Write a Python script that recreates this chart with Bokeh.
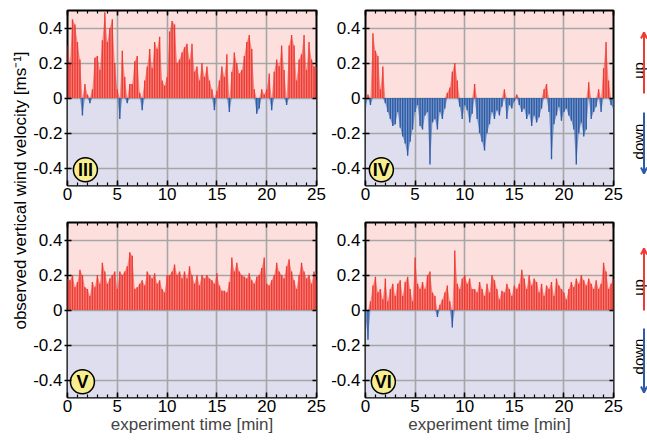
import math
from bokeh.plotting import figure
from bokeh.layouts import row, column
from bokeh.models import (Range1d, FixedTicker, LinearAxis, BoxAnnotation,
                          CustomJSTickFormatter, Arrow, OpenHead, ColumnDataSource)
from bokeh.embed import file_html
from bokeh.resources import INLINE
from bokeh.core.properties import value

# ---------------- data ----------------
time_min = [i * 0.25 for i in range(101)]   # sampling instants, 0 .. 25 min

wind_III = [
    0.30, 0.20, 0.45, 0.42, 0.32, 0.22, -0.10, 0.08,
    0.02, -0.03, 0.05, 0.23, 0.24, 0.16, 0.33, 0.49,
    0.32, 0.40, 0.45, 0.20, 0.05, -0.12, 0.27, 0.12,
    -0.03, 0.08, 0.08, 0.21, 0.24, 0.03, -0.07, 0.10,
    0.18, 0.28, 0.17, 0.32, 0.28, 0.35, 0.10, 0.07,
    0.12, 0.38, 0.44, 0.42, 0.20, 0.22, 0.26, 0.29,
    0.31, 0.22, 0.31, 0.15, 0.18, 0.10, 0.20, 0.12,
    0.18, 0.10, 0.05, -0.07, 0.04, 0.10, 0.18, 0.12,
    0.25, -0.08, 0.15, 0.26, 0.20, 0.14, 0.16, 0.24,
    0.32, 0.36, 0.28, 0.05, -0.09, -0.06, 0.05, 0.02,
    0.05, 0.14, -0.07, 0.15, 0.22, 0.18, 0.30, 0.16,
    -0.04, 0.30, 0.36, 0.30, 0.10, 0.22, 0.25, 0.36,
    0.16, 0.32, 0.22, 0.18, 0.18,
]
wind_IV = [
    -0.05, 0.02, -0.04, 0.37, 0.27, 0.24, 0.05, 0.18,
    -0.03, -0.08, -0.12, -0.16, -0.15, -0.08, -0.17, -0.22,
    -0.26, -0.33, -0.25, -0.18, -0.08, -0.04, -0.16, -0.18,
    -0.10, -0.08, -0.38, -0.14, -0.12, -0.18, -0.08, -0.12,
    -0.06, 0.03, 0.06, 0.15, 0.20, 0.10, -0.05, -0.12,
    -0.04, -0.07, -0.14, -0.09, 0.08, -0.12, -0.20, -0.25,
    -0.30, -0.20, -0.15, -0.08, -0.12, -0.07, -0.10, -0.05,
    0.05, -0.12, -0.04, -0.06, -0.02, 0.02, -0.04, -0.08,
    -0.06, -0.12, -0.09, -0.16, -0.10, -0.14, -0.11, -0.06,
    0.05, 0.08, -0.08, -0.35, -0.15, -0.10, -0.05, -0.13,
    -0.08, -0.06, -0.10, -0.13, -0.18, -0.38, -0.20, -0.14,
    -0.22, -0.18, 0.09, -0.12, -0.08, -0.05, 0.05, -0.08,
    0.17, 0.32, 0.10, -0.04, -0.06,
]
wind_V = [
    0.18, 0.17, 0.20, 0.13, 0.16, 0.23, 0.20, 0.13,
    0.12, 0.08, 0.16, 0.13, 0.20, 0.15, 0.27, 0.22,
    0.15, 0.18, 0.20, 0.22, 0.12, 0.22, 0.20, 0.22,
    0.25, 0.33, 0.31, 0.12, 0.13, 0.15, 0.17, 0.14,
    0.22, 0.20, 0.18, 0.21, 0.15, 0.17, 0.12, 0.10,
    0.20, 0.20, 0.22, 0.26, 0.20, 0.22, 0.18, 0.22,
    0.18, 0.25, 0.20, 0.15, 0.20, 0.14, 0.20, 0.18,
    0.20, 0.18, 0.17, 0.15, 0.21, 0.14, 0.11, 0.11,
    0.10, 0.16, 0.30, 0.22, 0.27, 0.22, 0.20, 0.19,
    0.18, 0.21, 0.17, 0.15, 0.19, 0.20, 0.24, 0.30,
    0.15, 0.14, 0.17, 0.20, 0.27, 0.22, 0.20, 0.18,
    0.25, 0.29, 0.22, 0.17, 0.12, 0.20, 0.27, 0.22,
    0.18, 0.20, 0.15, 0.22, 0.17,
]
wind_VI = [
    -0.04, -0.17, 0.05, 0.14, 0.19, 0.10, 0.12, 0.06,
    0.18, 0.05, 0.12, 0.15, 0.08, 0.15, 0.17, 0.08,
    0.16, 0.19, 0.12, 0.05, 0.30, 0.15, 0.12, 0.16,
    0.12, 0.20, 0.22, 0.10, 0.08, -0.04, 0.03, 0.06,
    0.10, 0.14, 0.05, -0.10, 0.34, 0.15, 0.12, 0.18,
    0.20, 0.15, 0.18, 0.12, 0.12, 0.10, 0.16, 0.12,
    0.08, 0.15, 0.10, 0.20, 0.17, 0.12, 0.06, 0.11,
    0.10, 0.15, 0.12, 0.08, 0.14, 0.12, 0.15, 0.23,
    0.18, 0.12, 0.20, 0.14, 0.18, 0.16, 0.10, 0.15,
    0.08, 0.14, 0.12, 0.16, 0.08, 0.18, 0.14, 0.12,
    0.10, 0.06, 0.12, 0.16, 0.13, 0.18, 0.15, 0.20,
    0.17, 0.14, 0.18, 0.15, 0.12, 0.17, 0.12, 0.15,
    0.27, 0.22, 0.12, 0.15, 0.18,
]

x_ticks = [0, 5, 10, 15, 20, 25]
x_minor = list(range(26))
y_ticks = [-0.4, -0.2, 0, 0.2, 0.4]
panel_names = ["III", "IV", "V", "VI"]
y_title = "observed vertical wind velocity [ms\u207b\u00b9]"
x_title = "experiment time [min]"
dir_labels = ["up", "down"]

# ---------------- styles ----------------
FONT = "Liberation Sans"
RED = "#ee3a32"
BLUE = "#2c5ca8"
PINK = "#fde0de"
LAV = "#dedeee"
GRIDC = "#a6a6a6"
YELLOW = "#f7ef8f"
FS = "17px"
TOTAL_H = 439


def make_panel(vals, name, badge_x, width, height, bl, br, bt, bb, with_title):
    p = figure(width=width, height=height, x_range=Range1d(0, 25), y_range=Range1d(-0.5, 0.5),
               output_backend="svg", toolbar_location=None,
               min_border_left=bl, min_border_right=br, min_border_top=bt, min_border_bottom=bb,
               background_fill_color=PINK, border_fill_color="white",
               outline_line_color="black", outline_line_width=2)
    p.add_layout(BoxAnnotation(top=0, fill_color=LAV, fill_alpha=1.0, line_color=None, level="image"))

    pos = [max(v, 0.0) for v in vals]
    neg = [min(v, 0.0) for v in vals]
    src = ColumnDataSource(dict(t=time_min, pos=pos, neg=neg))
    p.varea(x="t", y1=0, y2="pos", source=src, fill_color=RED, fill_alpha=0.55)
    p.varea(x="t", y1=0, y2="neg", source=src, fill_color=BLUE, fill_alpha=0.55)
    p.vbar(x="t", bottom=0, top="pos", width=0.14, source=src, fill_color=RED, line_color=None)
    p.vbar(x="t", bottom="neg", top=0, width=0.14, source=src, fill_color=BLUE, line_color=None)

    xt = FixedTicker(ticks=x_ticks, minor_ticks=x_minor)
    yt = FixedTicker(ticks=y_ticks, minor_ticks=[])

    xa = p.xaxis[0]
    xa.ticker = xt
    ya = p.yaxis[0]
    ya.ticker = yt
    ya.formatter = CustomJSTickFormatter(code="return Math.abs(tick) < 1e-9 ? '0' : tick.toFixed(1);")
    for ax in (xa, ya):
        ax.axis_line_color = None
        ax.major_tick_line_color = "black"
        ax.major_tick_line_width = 1.5
        ax.minor_tick_line_color = "black"
        ax.minor_tick_line_width = 1.2
        ax.major_label_text_font = FONT
        ax.major_label_text_font_size = FS
        ax.major_label_text_color = "black"
        ax.major_label_standoff = 2
    xa.major_tick_in = 5
    xa.major_tick_out = 0
    xa.minor_tick_in = 3
    xa.minor_tick_out = 0
    ya.major_tick_in = 4
    ya.major_tick_out = 3
    if with_title:
        xa.axis_label = x_title
        xa.axis_label_text_font = FONT
        xa.axis_label_text_font_size = FS
        xa.axis_label_text_font_style = "normal"
        xa.axis_label_standoff = 0

    blank = CustomJSTickFormatter(code="return '';")
    top = LinearAxis(ticker=xt, formatter=blank, major_label_text_font_size="8px",
                     major_label_standoff=0, axis_line_color=None, major_tick_in=5,
                     major_tick_out=0, minor_tick_in=3, minor_tick_out=0,
                     major_tick_line_width=1.5, minor_tick_line_width=1.2)
    p.add_layout(top, "above")
    right = LinearAxis(ticker=yt, formatter=blank, major_label_text_font_size="8px",
                       major_label_standoff=0, axis_line_color=None, major_tick_in=4,
                       major_tick_out=0, major_tick_line_width=1.5)
    p.add_layout(right, "right")

    p.xgrid.ticker = xt
    p.ygrid.ticker = yt
    for g in (p.xgrid[0], p.ygrid[0]):
        g.grid_line_color = GRIDC
        g.grid_line_width = 1.6
        g.level = "underlay"

    p.scatter(x=[badge_x], y=[-0.41], size=24, fill_color=YELLOW, line_color="black", line_width=1.5)
    p.text(x=[badge_x], y=[-0.41], text=[name], text_font=value(FONT), text_font_style="bold",
           text_font_size="18px", text_align="center", text_baseline="middle", text_color="black")
    return p


p3 = make_panel(wind_III, panel_names[0], 1.8, 298, 218, 36, 12, 10, 33, False)
p5 = make_panel(wind_V, panel_names[2], 1.5, 298, 221, 36, 12, 4, 42, True)
p4 = make_panel(wind_IV, panel_names[1], 1.6, 295, 218, 36, 10, 10, 33, False)
p6 = make_panel(wind_VI, panel_names[3], 1.8, 295, 221, 36, 10, 4, 42, True)

# shared y title (left strip)
yfig = figure(width=30, height=TOTAL_H, x_range=Range1d(0, 30), y_range=Range1d(0, TOTAL_H),
              output_backend="svg", toolbar_location=None, min_border=0,
              x_axis_type=None, y_axis_type=None, outline_line_color=None)
yfig.grid.visible = False
yfig.text(x=[20], y=[TOTAL_H - 190], text=[y_title], angle=math.pi / 2, text_font=value(FONT),
          text_font_size=FS, text_align="center", text_baseline="middle", text_color="black")

# up / down arrows (right strip); y measured in pixels from the strip bottom
afig = figure(width=24, height=TOTAL_H, x_range=Range1d(0, 24), y_range=Range1d(0, TOTAL_H),
              output_backend="svg", toolbar_location=None, min_border=0,
              x_axis_type=None, y_axis_type=None, outline_line_color=None)
afig.grid.visible = False
for (up_tip, up_tail, dn_tail, dn_tip, up_txt, dn_txt) in [(32, 93, 112, 173, 70, 141),
                                                           (248, 310, 328, 392, 287, 356)]:
    afig.add_layout(Arrow(end=OpenHead(size=6, line_color=RED, line_width=2),
                          x_start=20.5, y_start=TOTAL_H - up_tail, x_end=20.5, y_end=TOTAL_H - up_tip,
                          line_color=RED, line_width=2))
    afig.add_layout(Arrow(end=OpenHead(size=6, line_color=BLUE, line_width=2),
                          x_start=20.5, y_start=TOTAL_H - dn_tail, x_end=20.5, y_end=TOTAL_H - dn_tip,
                          line_color=BLUE, line_width=2))
    afig.text(x=[14.5, 14.5], y=[TOTAL_H - up_txt, TOTAL_H - dn_txt], text=dir_labels,
              angle=math.pi / 2, text_font=value(FONT), text_font_size="15px", text_align="center",
              text_baseline="alphabetic", text_color="black")

layout = row(yfig, column(p3, p5), column(p4, p6), afig)
open("out.html", "w").write(file_html(layout, INLINE))
